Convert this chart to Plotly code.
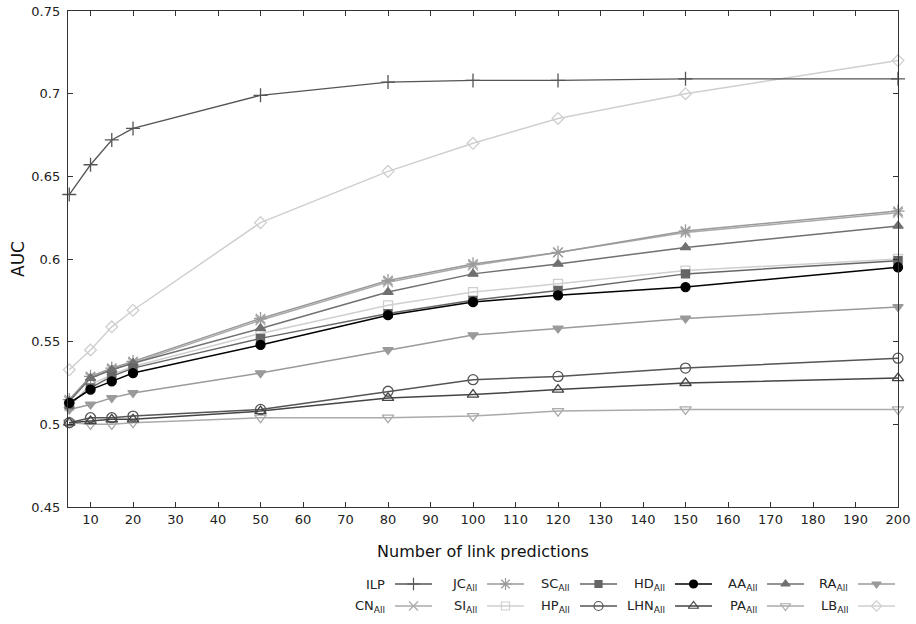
import plotly.graph_objects as go

# ---------------- data ----------------
X = [5, 10, 15, 20, 50, 80, 100, 120, 150, 200]

ILP = [0.639, 0.657, 0.672, 0.679, 0.699, 0.707, 0.708, 0.708, 0.709, 0.709]
CN = [0.514, 0.528, 0.533, 0.537, 0.563, 0.586, 0.596, 0.604, 0.616, 0.628]
JC = [0.515, 0.529, 0.534, 0.538, 0.564, 0.587, 0.597, 0.604, 0.617, 0.629]
SI = [0.511, 0.524, 0.530, 0.535, 0.555, 0.572, 0.580, 0.585, 0.593, 0.600]
SC = [0.512, 0.522, 0.529, 0.534, 0.552, 0.567, 0.575, 0.581, 0.591, 0.599]
HP = [0.501, 0.504, 0.504, 0.505, 0.509, 0.520, 0.527, 0.529, 0.534, 0.540]
HD = [0.513, 0.521, 0.526, 0.531, 0.548, 0.566, 0.574, 0.578, 0.583, 0.595]
LHN = [0.501, 0.502, 0.503, 0.503, 0.508, 0.516, 0.518, 0.521, 0.525, 0.528]
AA = [0.514, 0.528, 0.533, 0.537, 0.558, 0.580, 0.591, 0.597, 0.607, 0.620]
PA = [0.501, 0.500, 0.500, 0.501, 0.504, 0.504, 0.505, 0.508, 0.509, 0.509]
RA = [0.509, 0.512, 0.516, 0.519, 0.531, 0.545, 0.554, 0.558, 0.564, 0.571]
LB = [0.533, 0.545, 0.559, 0.569, 0.622, 0.653, 0.670, 0.685, 0.700, 0.720]

NAMES = ["ILP", "CN<sub>All</sub>", "JC<sub>All</sub>", "SI<sub>All</sub>",
         "SC<sub>All</sub>", "HP<sub>All</sub>", "HD<sub>All</sub>", "LHN<sub>All</sub>",
         "AA<sub>All</sub>", "PA<sub>All</sub>", "RA<sub>All</sub>", "LB<sub>All</sub>"]
SERIES = [ILP, CN, JC, SI, SC, HP, HD, LHN, AA, PA, RA, LB]

X_TICKS = list(range(10, 201, 10))
Y_TICKS = [0.45, 0.5, 0.55, 0.6, 0.65, 0.7, 0.75]

# ---------------- styles ----------------
STYLE = [
    dict(color="#555555", symbol="cross-thin-open", size=10, lw=1.3),   # ILP
    dict(color="#aaaaaa", symbol="x-thin-open", size=10, lw=1.5),       # CN
    dict(color="#9a9a9a", symbol="asterisk-open", size=11, lw=1.5),     # JC
    dict(color="#cfcfcf", symbol="square-open", size=9, lw=1.5),        # SI
    dict(color="#666666", symbol="square", size=8, lw=1.5),             # SC
    dict(color="#555555", symbol="circle-open", size=10, lw=1.5),       # HP
    dict(color="#000000", symbol="circle", size=9, lw=1.5),             # HD
    dict(color="#444444", symbol="triangle-up-open", size=10, lw=1.5),  # LHN
    dict(color="#707070", symbol="triangle-up", size=9, lw=1.5),        # AA
    dict(color="#aaaaaa", symbol="triangle-down-open", size=10, lw=1.5),# PA
    dict(color="#9a9a9a", symbol="triangle-down", size=9, lw=1.5),      # RA
    dict(color="#cfcfcf", symbol="diamond-open", size=9, lw=1.5),       # LB
]
DRAW_ORDER = [11, 3, 1, 10, 9, 2, 8, 4, 5, 7, 6, 0]

W, H = 916, 624
ML, MR, MT, MB = 68, 5, 11, 0
PLOT_RIGHT_PX = 898
PLOT_BOTTOM_PX = 507
x_dom_hi = (PLOT_RIGHT_PX - ML) / (W - ML - MR)
y_dom_lo = (H - PLOT_BOTTOM_PX) / (H - MT - MB)

FONT = "DejaVu Sans"

fig = go.Figure()

for i in DRAW_ORDER:
    s = STYLE[i]
    fig.add_trace(go.Scatter(
        x=X, y=SERIES[i], mode="lines+markers", name=NAMES[i],
        line=dict(color=s["color"], width=s["lw"]),
        marker=dict(symbol=s["symbol"], size=s["size"], color=s["color"],
                    line=dict(color=s["color"], width=1.3)),
        cliponaxis=False, showlegend=False, xaxis="x", yaxis="y"))

# ---------------- manual legend (text left of sample, 2 rows x 6 columns) ----------------
LEG_TEXT_END = [387, 479, 572, 667, 759, 850]
LEG_ROW_Y = [584, 606]
LEG_GAP = 8
LEG_LEN = 37
annotations = []
for k, name in enumerate(NAMES):
    col, row = k // 2, k % 2
    s = STYLE[k]
    x0 = LEG_TEXT_END[col] + LEG_GAP
    x1 = x0 + LEG_LEN
    yy = LEG_ROW_Y[row]
    fig.add_trace(go.Scatter(
        x=[x0, x1], y=[yy, yy], mode="lines",
        line=dict(color=s["color"], width=s["lw"]),
        showlegend=False, hoverinfo="skip", xaxis="x2", yaxis="y2"))
    fig.add_trace(go.Scatter(
        x=[(x0 + x1) / 2], y=[yy], mode="markers",
        marker=dict(symbol=s["symbol"], size=s["size"] - 1, color=s["color"],
                    line=dict(color=s["color"], width=1.2)),
        cliponaxis=False, showlegend=False, hoverinfo="skip", xaxis="x2", yaxis="y2"))
    annotations.append(dict(
        x=LEG_TEXT_END[col], y=yy, xref="x2", yref="y2", text=name,
        showarrow=False, xanchor="right", yanchor="middle",
        font=dict(family=FONT, size=13, color="#222222")))

axis_common = dict(
    showline=True, linecolor="#333333", linewidth=1.3, mirror="ticks",
    ticks="inside", ticklen=5, tickwidth=1.2, tickcolor="#333333",
    showgrid=False, zeroline=False, automargin=False,
    tickfont=dict(family=FONT, size=13, color="#222222"),
)

fig.update_layout(
    width=W, height=H,
    margin=dict(l=ML, r=MR, t=MT, b=MB, autoexpand=False),
    paper_bgcolor="white", plot_bgcolor="rgba(0,0,0,0)",
    showlegend=False,
    xaxis=dict(domain=[0, x_dom_hi], range=[4.7, 200], tickvals=X_TICKS,
               anchor="y",
               title=dict(text="Number of link predictions", standoff=20,
                          font=dict(family=FONT, size=16, color="#111111")),
               **axis_common),
    yaxis=dict(domain=[y_dom_lo, 1], range=[0.45, 0.75], tickvals=Y_TICKS,
               anchor="x", ticklabelstandoff=4,
               title=dict(text="AUC", standoff=2,
                          font=dict(family=FONT, size=17, color="#111111")),
               **axis_common),
    xaxis2=dict(domain=[0, 1], range=[ML, W - MR], visible=False, anchor="y2",
                fixedrange=True),
    yaxis2=dict(domain=[0, 1], range=[H - MB, MT], visible=False, anchor="x2",
                fixedrange=True),
    annotations=annotations,
)

fig.write_html("out.html",
               config={"displayModeBar": False},
               post_script="document.body.style.margin='0px';document.body.style.padding='0px';")
